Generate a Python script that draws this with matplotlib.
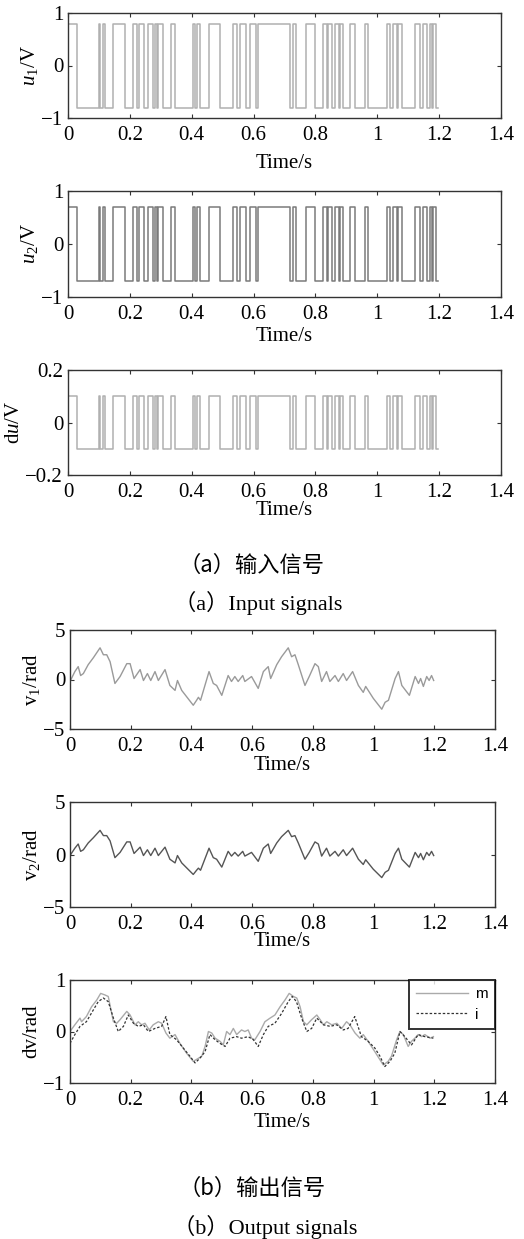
import matplotlib
matplotlib.use("Agg")
import matplotlib.pyplot as plt
import numpy as np

# ---------------- data ----------------
# PRBS input: switching instants (s) and the state (+1 high / -1 low) after each
switch_t = [0.0, 0.029, 0.100, 0.104, 0.112, 0.119, 0.146, 0.183, 0.210, 0.223,
            0.230, 0.245, 0.259, 0.276, 0.280, 0.288, 0.292, 0.307, 0.334, 0.345,
            0.405, 0.412, 0.416, 0.426, 0.455, 0.493, 0.534, 0.547, 0.555, 0.577,
            0.588, 0.609, 0.615, 0.717, 0.728, 0.737, 0.771, 0.798, 0.825, 0.838,
            0.842, 0.852, 0.863, 0.877, 0.881, 0.890, 0.912, 0.928, 0.960, 0.971,
            1.030, 1.041, 1.052, 1.063, 1.067, 1.079, 1.122, 1.138, 1.149, 1.160,
            1.170, 1.176, 1.180, 1.190, 1.195]
switch_state = [1, -1, 1, -1, 1, -1, 1, -1, 1, -1,
                1, -1, 1, -1, 1, -1, 1, -1, 1, -1,
                1, -1, 1, -1, 1, -1, 1, -1, 1, -1,
                1, -1, 1, -1, 1, -1, 1, -1, 1, -1,
                1, -1, 1, -1, 1, -1, 1, -1, 1, -1,
                1, -1, 1, -1, 1, -1, 1, -1, 1, -1,
                1, -1, 1, -1, -1]
u1_amp = 0.8
u2_amp = 0.7
du_amp = 0.1

v_t = [0, 0.016, 0.027, 0.035, 0.044, 0.06, 0.077, 0.099, 0.11, 0.121, 0.132, 0.148,
       0.165, 0.187, 0.198, 0.211, 0.231, 0.242, 0.255, 0.266, 0.28, 0.291, 0.313,
       0.329, 0.346, 0.354, 0.368, 0.406, 0.417, 0.423, 0.43, 0.458, 0.472, 0.483,
       0.5, 0.521, 0.532, 0.543, 0.554, 0.569, 0.576, 0.598, 0.62, 0.637, 0.653,
       0.661, 0.681, 0.697, 0.719, 0.73, 0.741, 0.752, 0.774, 0.788, 0.807, 0.818,
       0.829, 0.845, 0.856, 0.873, 0.884, 0.9, 0.911, 0.931, 0.95, 0.966, 0.974,
       0.999, 1.027, 1.038, 1.049, 1.071, 1.082, 1.093, 1.118, 1.137, 1.148, 1.155,
       1.164, 1.175, 1.183, 1.191, 1.198]
v1 = [-0.2, 0.8, 1.3, 0.4, 0.6, 1.5, 2.2, 3.2, 2.5, 2.5, 1.8, -0.4,
      0.3, 1.6, 1.6, 0.1, 1.0, -0.1, 0.6, -0.1, 0.8, -0.1, 1.0,
      -0.6, -1.1, -0.1, -1.1, -2.6, -2.1, -1.8, -2.1, 0.8, -0.4, -0.6,
      -1.6, 0.4, -0.2, 0.3, -0.2, 0.4, -0.2, 0.3, -0.9, 0.8, 1.3,
      0.1, 1.5, 2.3, 3.2, 2.3, 2.5, 1.5, -0.6, 0.3, 1.6, 1.3,
      -0.2, 0.8, -0.2, 0.4, -0.2, 0.6, -0.1, 0.8, -0.6, -1.3, -0.7,
      -1.9, -3.0, -2.3, -2.1, 0.1, 0.8, -0.6, -1.6, 0.3, -0.4, 0.1,
      -0.7, 0.3, -0.1, 0.4, -0.1]
v2 = [-0.1, 0.6, 1.0, 0.3, 0.45, 1.1, 1.6, 2.3, 1.8, 1.8, 1.3, -0.3,
      0.2, 1.2, 1.2, 0.1, 0.7, -0.1, 0.45, -0.1, 0.6, -0.1, 0.7,
      -0.45, -0.8, -0.1, -0.8, -1.9, -1.5, -1.3, -1.5, 0.6, -0.3, -0.45,
      -1.2, 0.3, -0.15, 0.2, -0.15, 0.3, -0.15, 0.2, -0.65, 0.6, 1.0,
      0.1, 1.1, 1.7, 2.3, 1.7, 1.8, 1.1, -0.45, 0.2, 1.2, 1.0,
      -0.15, 0.6, -0.15, 0.3, -0.15, 0.45, -0.1, 0.6, -0.45, -0.95, -0.5,
      -1.4, -2.2, -1.7, -1.5, 0.1, 0.6, -0.45, -1.2, 0.2, -0.3, 0.1,
      -0.5, 0.2, -0.1, 0.3, -0.1]

dvm_t = [0, 0.016, 0.033, 0.038, 0.054, 0.071, 0.088, 0.101, 0.115, 0.126, 0.143,
         0.154, 0.165, 0.187, 0.198, 0.214, 0.225, 0.236, 0.247, 0.261, 0.274,
         0.291, 0.302, 0.316, 0.329, 0.346, 0.362, 0.384, 0.406, 0.423, 0.434,
         0.445, 0.456, 0.467, 0.478, 0.494, 0.505, 0.516, 0.527, 0.538, 0.549,
         0.565, 0.576, 0.587, 0.598, 0.609, 0.626, 0.642, 0.659, 0.675, 0.692,
         0.708, 0.722, 0.736, 0.747, 0.758, 0.769, 0.78, 0.796, 0.813, 0.824,
         0.835, 0.846, 0.862, 0.879, 0.895, 0.911, 0.922, 0.939, 0.955, 0.966,
         0.982, 1.004, 1.032, 1.048, 1.059, 1.076, 1.087, 1.098, 1.114, 1.125,
         1.136, 1.147, 1.158, 1.169, 1.186, 1.197]
dv_m = [0.0, 0.13, 0.26, 0.19, 0.29, 0.48, 0.61, 0.74, 0.71, 0.68, 0.19,
        0.16, 0.23, 0.39, 0.32, 0.13, 0.19, 0.13, 0.16, 0.03, 0.13,
        0.19, 0.16, -0.03, -0.13, -0.06, -0.23, -0.42, -0.58, -0.52, -0.48,
        -0.29, 0.0, -0.03, -0.13, -0.19, -0.26, 0.0, -0.06, 0.06, -0.06,
        0.03, 0.0, 0.03, -0.13, -0.16, 0.0, 0.19, 0.26, 0.32, 0.48,
        0.61, 0.74, 0.68, 0.65, 0.48, 0.19, 0.13, 0.23, 0.32, 0.23,
        0.13, 0.19, 0.13, 0.16, 0.06, 0.19, 0.13, -0.03, -0.13, -0.06,
        -0.19, -0.39, -0.65, -0.58, -0.48, -0.16, 0.0, -0.06, -0.29, -0.19,
        -0.13, -0.06, -0.1, -0.06, -0.13, -0.1]
dvi_t = [0, 0.016, 0.033, 0.054, 0.077, 0.093, 0.11, 0.126, 0.143, 0.159, 0.176,
         0.192, 0.209, 0.225, 0.242, 0.258, 0.28, 0.302, 0.316, 0.329, 0.351,
         0.373, 0.395, 0.412, 0.428, 0.445, 0.461, 0.478, 0.494, 0.511, 0.527,
         0.549, 0.565, 0.587, 0.604, 0.62, 0.637, 0.653, 0.675, 0.697, 0.719,
         0.732, 0.746, 0.763, 0.78, 0.796, 0.813, 0.835, 0.857, 0.879, 0.9,
         0.916, 0.938, 0.96, 0.982, 1.004, 1.021, 1.037, 1.054, 1.07, 1.087,
         1.103, 1.125, 1.147, 1.169, 1.197]
dv_i = [-0.23, -0.06, 0.1, 0.19, 0.42, 0.58, 0.65, 0.58, 0.26, 0.0, 0.1,
        0.32, 0.16, 0.1, 0.13, 0.0, 0.06, 0.1, 0.29, -0.06, -0.16,
        -0.32, -0.48, -0.61, -0.52, -0.39, -0.06, -0.16, -0.23, -0.29, -0.13,
        -0.1, -0.13, -0.1, -0.16, -0.29, -0.06, 0.1, 0.16, 0.35, 0.58,
        0.68, 0.58, 0.26, 0.0, 0.06, 0.26, 0.13, 0.1, 0.13, 0.03,
        0.06, 0.29, -0.1, -0.19, -0.32, -0.48, -0.68, -0.58, -0.42, 0.0,
        -0.1, -0.26, -0.06, -0.1, -0.13]

xticks = [0, 0.2, 0.4, 0.6, 0.8, 1, 1.2, 1.4]
xtick_labels = ["0", "0.2", "0.4", "0.6", "0.8", "1", "1.2", "1.4"]

# ---------------- style ----------------
plt.rcParams['font.family'] = ['Liberation Serif', 'Noto Sans CJK SC']
plt.rcParams['mathtext.fontset'] = 'custom'
plt.rcParams['mathtext.rm'] = 'Liberation Serif'
plt.rcParams['mathtext.it'] = 'Liberation Serif:italic'
plt.rcParams['axes.unicode_minus'] = True

W, H = 524, 1239
fig = plt.figure(figsize=(W / 100, H / 100), dpi=100)
fig.patch.set_facecolor('white')

def add_ax(left, top, right, bottom):
    return fig.add_axes([left / W, 1 - bottom / H, (right - left) / W, (bottom - top) / H])

FS = 15

def style(ax, ylim, yticks, yticklabels, ylabel, xlabelpad):
    ax.set_xlim(0, 1.4)
    ax.set_ylim(*ylim)
    ax.set_xticks(xticks)
    ax.set_xticklabels(xtick_labels, fontsize=FS)
    ax.set_yticks(yticks)
    ax.set_yticklabels(yticklabels, fontsize=FS)
    ax.tick_params(direction='in', top=True, right=True, length=3, width=0.8,
                   color='#333333')
    ax.tick_params(axis='x', pad=5.5)
    ax.tick_params(axis='y', pad=3.5)
    for s in ax.spines.values():
        s.set_linewidth(1.0)
        s.set_color('#333333')
    ax.set_xlabel('Time/s', fontsize=FS, labelpad=xlabelpad)
    ax.set_ylabel(ylabel, fontsize=FS, labelpad=1)

st = np.array(switch_state, dtype=float)

ax1 = add_ax(68, 13, 501, 118)
ax1.step(switch_t, st * u1_amp, where='post', color='#b0b0b0', lw=1.1)
style(ax1, (-1, 1), [-1, 0, 1], ['\u22121', '0', '1'], r'$\mathit{u}_1$/V', 7)

ax2 = add_ax(68, 191, 501, 297)
ax2.step(switch_t, st * u2_amp, where='post', color='#7a7a7a', lw=1.1)
style(ax2, (-1, 1), [-1, 0, 1], ['\u22121', '0', '1'], r'$\mathit{u}_2$/V', 2.5)

ax3 = add_ax(68, 370, 501, 475)
ax3.step(switch_t, st * du_amp, where='post', color='#b0b0b0', lw=1.1)
style(ax3, (-0.2, 0.2), [-0.2, 0, 0.2], ['\u22120.2', '0', '0.2'], r'd$\mathit{u}$/V', -0.5)

CAP = 16
fig.text(252 / W, 1 - 565 / H, '（a）输入信号', ha='center', va='center', fontsize=CAP,
         family=['Noto Sans CJK SC'])
fig.text(258 / W, 1 - 603 / H, '（a）Input signals', ha='center', va='center', fontsize=CAP)

ax4 = add_ax(70, 630, 495, 729)
ax4.plot(v_t, v1, color='#9a9a9a', lw=1.0)
style(ax4, (-5, 5), [-5, 0, 5], ['\u22125', '0', '5'], r'v$_1$/rad', 0)

ax5 = add_ax(70, 802, 495, 907)
ax5.plot(v_t, v2, color='#555555', lw=1.0)
style(ax5, (-5, 5), [-5, 0, 5], ['\u22125', '0', '5'], r'v$_2$/rad', -1)

ax6 = add_ax(70, 980, 495, 1083)
ax6.plot(dvm_t, dv_m, color='#aaaaaa', lw=1.0, label='m')
ax6.plot(dvi_t, dv_i, color='#333333', lw=0.9, ls=(0, (2, 1.5)), label='i')
style(ax6, (-1, 1), [-1, 0, 1], ['\u22121', '0', '1'], 'dv/rad', 2.5)
leg = ax6.legend(loc='upper right', prop={'family': 'Liberation Sans', 'size': 11},
                 handlelength=3.4, handletextpad=0.5, borderaxespad=0, frameon=True,
                 fancybox=False, borderpad=0.45, labelspacing=0.45)
leg.get_frame().set_edgecolor('black')
leg.get_frame().set_linewidth(1.4)

fig.text(252 / W, 1 - 1188 / H, '（b）输出信号', ha='center', va='center', fontsize=CAP,
         family=['Noto Sans CJK SC'])
fig.text(265 / W, 1 - 1227 / H, '（b）Output signals', ha='center', va='center', fontsize=CAP)

fig.savefig('out.png', dpi=100)
